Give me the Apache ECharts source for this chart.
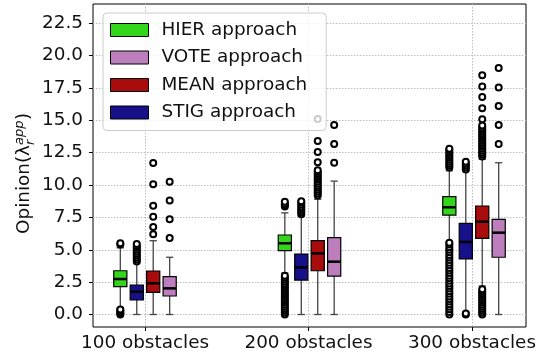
<!DOCTYPE html>
<html><head><meta charset="utf-8">
<script src="https://cdn.jsdelivr.net/npm/echarts@6/dist/echarts.min.js"></script>
<style>html,body{margin:0;padding:0;background:#fff}#c{width:539px;height:358px}</style>
</head><body><div id="c"></div>
<script>
// ---------- data ----------
const categories = ['100 obstacles', '200 obstacles', '300 obstacles'];
const groupPos = [1, 2, 3];
const yTicks = [0, 2.5, 5, 7.5, 10, 12.5, 15, 17.5, 20, 22.5];
const approaches = ['HIER approach', 'VOTE approach', 'MEAN approach', 'STIG approach'];

// box stats per obstacle group: [lower whisker, Q1, median, Q3, upper whisker]
const hierBox = [[0.5, 2.15, 2.74, 3.38, 5.15], [3.2, 4.93, 5.5, 6.14, 7.85], [5.65, 7.68, 8.28, 9.1, 11.1]];
const voteBox = [[0, 1.43, 2.02, 2.92, 4.42], [0, 2.97, 4.08, 5.93, 10.3], [0, 4.42, 6.32, 7.35, 11.72]];
const meanBox = [[0, 1.71, 2.41, 3.36, 5.7], [0, 3.38, 4.72, 5.7, 8.9], [2.2, 5.88, 7.17, 8.38, 12.0]];
const stigBox = [[0, 1.12, 1.76, 2.28, 4.0], [0, 2.66, 3.64, 4.67, 7.6], [0.2, 4.29, 5.6, 7.04, 11.1]];

// outliers per obstacle group
const hierOut = [
  [0, 0.1, 0.2, 0.3, 0.38, 5.4, 5.5],
  [0, 0.15, 0.3, 0.45, 0.6, 0.75, 0.9, 1.05, 1.2, 1.35, 1.5, 1.65, 1.8, 1.95, 2.1, 2.25, 2.4, 2.55, 2.7, 2.85, 3.0, 8.35, 8.45, 8.55, 8.7],
  [0, 0.2, 0.4, 0.6, 0.8, 1.0, 1.2, 1.4, 1.6, 1.8, 2.0, 2.2, 2.4, 2.6, 2.8, 3.0, 3.2, 3.4, 3.6, 3.8, 4.0, 4.2, 4.4, 4.6, 4.8, 5.0, 5.2, 5.4, 5.55,
   11.35, 11.5, 11.65, 11.8, 11.95, 12.1, 12.25, 12.4, 12.55, 12.7, 12.8]
];
const voteOut = [
  [5.9, 7.35, 8.8, 10.25],
  [11.72, 13.17, 14.63],
  [13.17, 14.63, 16.1, 17.54, 19.03]
];
const meanOut = [
  [6.2, 6.75, 7.55, 8.4, 10.05, 11.7],
  [9.2, 9.35, 9.5, 9.65, 9.8, 9.95, 10.1, 10.25, 10.4, 10.55, 10.7, 10.85, 11.0, 11.15, 11.75, 12.55, 13.4, 15.1],
  [0, 0.15, 0.3, 0.45, 0.6, 0.75, 0.9, 1.05, 1.2, 1.35, 1.5, 1.65, 1.8, 1.95,
   12.2, 12.35, 12.5, 12.65, 12.8, 12.95, 13.1, 13.25, 13.4, 13.55, 13.7, 13.85, 14.0, 14.15, 14.3, 14.45, 14.6, 15.07, 15.92, 16.8, 17.6, 18.47]
];
const stigOut = [
  [4.1, 4.25, 4.4, 4.55, 4.7, 4.85, 5.0, 5.15, 5.3, 5.45],
  [7.75, 7.9, 8.05, 8.2, 8.35, 8.5, 8.65, 8.75],
  [0, 0.08, 11.2, 11.35, 11.5, 11.65, 11.8]
];

// ---------- styling ----------
const FONT = 'DejaVu Sans';
const FS = 18.4;
const BOX_W = 0.08;
const colors = { 'HIER approach': '#33d61b', 'VOTE approach': '#bd7ebe', 'MEAN approach': '#a80c0c', 'STIG approach': '#16118a' };
const offsets = { 'HIER approach': -0.15, 'STIG approach': -0.05, 'MEAN approach': 0.05, 'VOTE approach': 0.15 };
const boxes = { 'HIER approach': hierBox, 'VOTE approach': voteBox, 'MEAN approach': meanBox, 'STIG approach': stigBox };
const outs = { 'HIER approach': hierOut, 'VOTE approach': voteOut, 'MEAN approach': meanOut, 'STIG approach': stigOut };

function renderBox(params, api) {
  const x = api.value(0);
  const lo = api.coord([x, api.value(1)]);
  const q1 = api.coord([x, api.value(2)]);
  const md = api.coord([x, api.value(3)]);
  const q3 = api.coord([x, api.value(4)]);
  const hi = api.coord([x, api.value(5)]);
  const bw = api.size([BOX_W, 0])[0];
  const cw = bw * 0.55;
  const cx = lo[0];
  const ws = { stroke: '#444', lineWidth: 1.3 };
  return {
    type: 'group', children: [
      { type: 'line', shape: { x1: cx, y1: q1[1], x2: cx, y2: lo[1] }, style: ws },
      { type: 'line', shape: { x1: cx, y1: q3[1], x2: cx, y2: hi[1] }, style: ws },
      { type: 'line', shape: { x1: cx - cw / 2, y1: lo[1], x2: cx + cw / 2, y2: lo[1] }, style: ws },
      { type: 'line', shape: { x1: cx - cw / 2, y1: hi[1], x2: cx + cw / 2, y2: hi[1] }, style: ws },
      { type: 'rect', shape: { x: cx - bw / 2, y: q3[1], width: bw, height: q1[1] - q3[1] }, style: { fill: api.visual('color'), stroke: '#000', lineWidth: 1.2 } },
      { type: 'line', shape: { x1: cx - bw / 2, y1: md[1], x2: cx + bw / 2, y2: md[1] }, style: { stroke: '#000', lineWidth: 2.5 } }
    ]
  };
}

const series = [];
approaches.forEach(name => {
  const off = offsets[name];
  series.push({
    type: 'custom', name: name, xAxisIndex: 0, yAxisIndex: 0,
    itemStyle: { color: colors[name], borderColor: '#000', borderWidth: 1 },
    encode: { x: 0, y: [1, 2, 3, 4, 5] },
    data: boxes[name].map((s, i) => [groupPos[i] + off].concat(s)),
    renderItem: renderBox, z: 2
  });
});
approaches.forEach(name => {
  const off = offsets[name];
  const pts = [];
  outs[name].forEach((vals, i) => vals.forEach(v => pts.push([groupPos[i] + off, v])));
  series.push({
    type: 'scatter', name: name + ' outliers', xAxisIndex: 0, yAxisIndex: 0,
    data: pts, symbol: 'circle', symbolSize: 6, silent: true, z: 3,
    itemStyle: { color: '#fff', borderColor: '#000', borderWidth: 2, opacity: 1 }
  });
});

const gridLine = { show: true, lineStyle: { color: '#bdbdbd', width: 1, type: [1.5, 1.5] } };

const chart = echarts.init(document.getElementById('c'), null, { renderer: 'canvas' });
chart.setOption({
  animation: false,
  backgroundColor: '#fff',
  textStyle: { fontFamily: FONT },
  grid: [
    { left: 93, right: 13, top: 4, bottom: 31, show: true, borderColor: '#000', borderWidth: 1, backgroundColor: 'transparent' },
    { left: 93, right: 13, top: 23.2, bottom: 43.5 },
    { left: 145, right: 65, top: 4, bottom: 31 }
  ],
  xAxis: [
    { gridIndex: 0, type: 'value', min: 0.684, max: 3.316, show: false },
    { gridIndex: 1, type: 'value', min: 0, max: 1, show: false },
    {
      gridIndex: 2, type: 'category', data: categories, boundaryGap: false,
      axisLine: { show: false },
      axisTick: { show: true, length: 4, lineStyle: { color: '#000' } },
      axisLabel: { interval: 0, fontSize: FS, color: '#111', margin: 7, fontFamily: FONT },
      splitLine: gridLine
    }
  ],
  yAxis: [
    { gridIndex: 0, type: 'value', min: -0.965, max: 23.98, show: false },
    {
      gridIndex: 1, type: 'value', min: yTicks[0], max: yTicks[yTicks.length - 1], interval: yTicks[1] - yTicks[0],
      axisLine: { show: false },
      axisTick: { show: true, length: 4, lineStyle: { color: '#000' } },
      axisLabel: { fontSize: FS, color: '#111', margin: 10, fontFamily: FONT, formatter: v => v.toFixed(1) },
      splitLine: gridLine
    },
    { gridIndex: 2, type: 'value', show: false }
  ],
  legend: {
    data: approaches, orient: 'vertical', left: 103, top: 13,
    padding: [8, 19, 9, 7], itemWidth: 38, itemHeight: 13, itemGap: 9.5, icon: 'rect',
    backgroundColor: 'rgba(255,255,255,0.8)', borderColor: '#cccccc', borderWidth: 1, borderRadius: 4,
    textStyle: { fontSize: FS, fontFamily: FONT, color: '#111', padding: [0, 0, 0, 8] },
    itemStyle: { borderColor: '#000', borderWidth: 1 }
  },
  graphic: [{
    type: 'group', x: 24.6, y: 234, rotation: Math.PI / 2, silent: true,
    children: [
      { type: 'text', x: 0, y: 0, style: { text: 'Opinion(λ', font: FS + 'px "DejaVu Sans"', fill: '#111', align: 'left', verticalAlign: 'middle' } },
      { type: 'text', x: 89, y: -5, style: { text: 'app', font: 'italic 13px "DejaVu Sans"', fill: '#111', align: 'left', verticalAlign: 'middle' } },
      { type: 'text', x: 89, y: 6, style: { text: 'r', font: 'italic 13px "DejaVu Sans"', fill: '#111', align: 'left', verticalAlign: 'middle' } },
      { type: 'text', x: 114, y: 0, style: { text: ')', font: FS + 'px "DejaVu Sans"', fill: '#111', align: 'left', verticalAlign: 'middle' } }
    ]
  }],
  series: series
});
</script></body></html>
